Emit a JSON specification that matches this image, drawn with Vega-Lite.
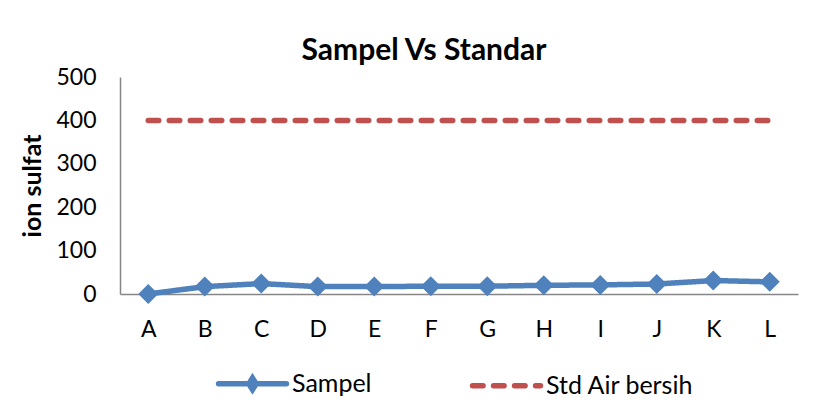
{
  "$schema": "https://vega.github.io/schema/vega-lite/v6.json",
  "width": 678,
  "height": 217,
  "autosize": {"type": "none"},
  "padding": {"left": 120, "top": 77, "right": 23, "bottom": 123},
  "background": "white",
  "title": {"text": "Sampel Vs Standar", "font": "Lato", "fontSize": 30, "fontWeight": "bold", "color": "black", "anchor": "middle", "dx": -35, "offset": 0},
  "config": {"view": {"stroke": null}, "font": "Lato"},
  "data": {"values": [
    {"cat": "A", "series": "Sampel", "value": 0},
    {"cat": "B", "series": "Sampel", "value": 17},
    {"cat": "C", "series": "Sampel", "value": 24},
    {"cat": "D", "series": "Sampel", "value": 17},
    {"cat": "E", "series": "Sampel", "value": 17},
    {"cat": "F", "series": "Sampel", "value": 18},
    {"cat": "G", "series": "Sampel", "value": 18},
    {"cat": "H", "series": "Sampel", "value": 20},
    {"cat": "I", "series": "Sampel", "value": 21},
    {"cat": "J", "series": "Sampel", "value": 23},
    {"cat": "K", "series": "Sampel", "value": 31},
    {"cat": "L", "series": "Sampel", "value": 28},
    {"cat": "A", "series": "Std Air bersih", "value": 400},
    {"cat": "B", "series": "Std Air bersih", "value": 400},
    {"cat": "C", "series": "Std Air bersih", "value": 400},
    {"cat": "D", "series": "Std Air bersih", "value": 400},
    {"cat": "E", "series": "Std Air bersih", "value": 400},
    {"cat": "F", "series": "Std Air bersih", "value": 400},
    {"cat": "G", "series": "Std Air bersih", "value": 400},
    {"cat": "H", "series": "Std Air bersih", "value": 400},
    {"cat": "I", "series": "Std Air bersih", "value": 400},
    {"cat": "J", "series": "Std Air bersih", "value": 400},
    {"cat": "K", "series": "Std Air bersih", "value": 400},
    {"cat": "L", "series": "Std Air bersih", "value": 400}
  ]},
  "encoding": {
    "x": {"field": "cat", "type": "nominal", "sort": null,
      "axis": {"title": null, "labelAngle": 0, "labelFontSize": 23, "labelColor": "black", "labelPadding": 24, "ticks": false, "domainColor": "#868686", "domainWidth": 1.5, "labelFont": "Lato"}},
    "y": {"field": "value", "type": "quantitative", "scale": {"domain": [0, 500], "nice": false},
      "axis": {"title": "ion sulfat", "titleFontSize": 25, "titleFontWeight": "bold", "titleColor": "black", "titlePadding": 10, "titleFont": "Lato",
        "values": [0, 100, 200, 300, 400, 500], "labelFontSize": 23, "labelColor": "black", "labelPadding": 24, "labelFont": "Lato",
        "ticks": false, "grid": false, "domainColor": "#868686", "domainWidth": 1.5}},
    "color": {"field": "series", "type": "nominal",
      "scale": {"domain": ["Sampel", "Std Air bersih"], "range": ["#4F81BD", "#C0504D"]},
      "legend": {"orient": "none", "legendX": 93, "legendY": 267, "direction": "horizontal", "title": null,
        "labelFontSize": 25, "labelColor": "black", "labelFont": "Lato", "labelOffset": 0, "columnPadding": 89,
        "symbolSize": 5329, "symbolStrokeWidth": 5.5, "symbolType": "M-1,0H1",
        "encode": {"symbols": {"update": {
          "shape": {"signal": "datum.value === 'Sampel' ? 'M-0.93,0H0.93M0,-0.16L0.1,0L0,0.16L-0.1,0Z' : 'M-0.93,0H0.93'"},
          "strokeDash": {"signal": "datum.value === 'Sampel' ? [1,0] : [10,11.5]"},
          "strokeCap": {"value": "round"},
          "fill": {"signal": "datum.value === 'Sampel' ? '#4F81BD' : 'transparent'"},
          "fillOpacity": {"value": 1}
        }}}}}
  },
  "layer": [
    {"mark": {"type": "line", "strokeWidth": 5.5, "strokeCap": "round"},
     "encoding": {"strokeDash": {"field": "series", "type": "nominal", "scale": {"domain": ["Sampel", "Std Air bersih"], "range": [[1, 0], [10.5, 10.5]]}, "legend": null}}},
    {"transform": [{"filter": "datum.series === 'Sampel'"}],
     "mark": {"type": "point", "shape": "diamond", "filled": true, "size": 400, "opacity": 1}}
  ]
}
